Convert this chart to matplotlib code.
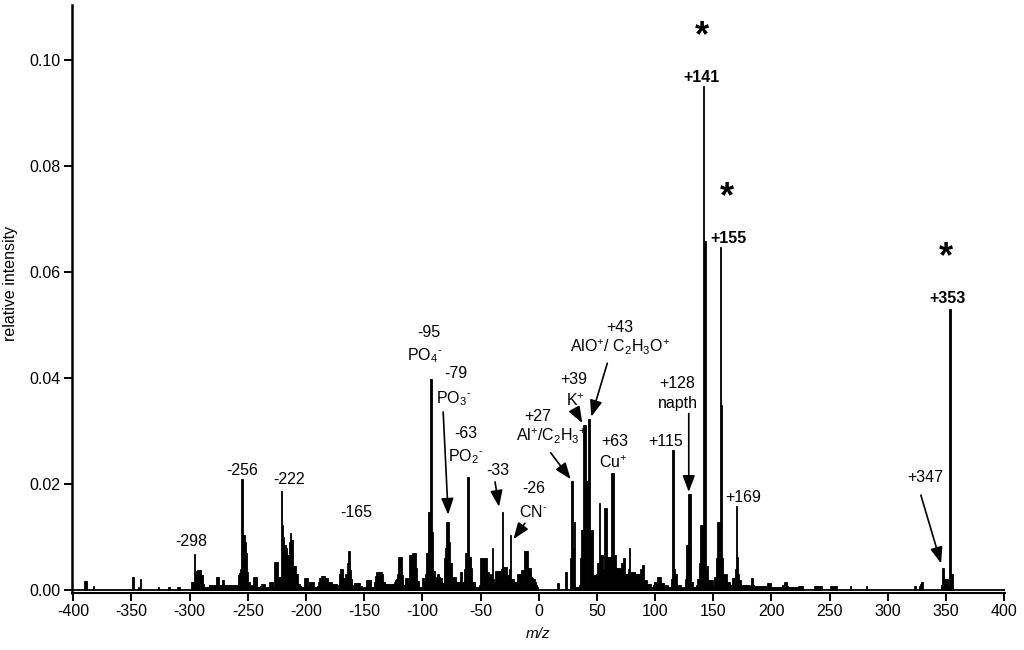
import matplotlib
matplotlib.use("Agg")
import matplotlib.pyplot as plt

plt.rcParams['font.family'] = ['Liberation Sans', 'DejaVu Sans']
plt.rcParams['mathtext.fontset'] = 'custom'
plt.rcParams['mathtext.rm'] = 'Liberation Sans'
plt.rcParams['mathtext.it'] = 'Liberation Sans:italic'
plt.rcParams['mathtext.bf'] = 'Liberation Sans:bold'

# ---------------- data: negative ions ----------------
neg_mz = [-390, -389, -383, -349, -348, -344, -342, -327, -318, -317, -310, -309,
          -298, -297, -296, -295, -294, -293, -292, -291, -290, -289, -288,
          -287, -286, -285, -284, -283, -282, -281, -280, -279, -278,
          -277, -276, -275, -274, -273, -272, -271,
          -270, -269, -268, -267, -266, -265, -264, -263, -262, -261, -260, -259,
          -258, -257, -256, -255, -254, -253, -252, -251, -250, -249, -248, -247, -246,
          -245, -244, -243, -242, -241, -240, -239, -238, -237, -236,
          -235, -234, -233, -232, -231, -230, -229, -228, -227, -226, -225,
          -224, -223, -222, -221, -220, -219, -218, -217, -216, -215, -214, -213, -212,
          -211, -210, -209, -208, -207, -206, -205, -204, -203, -202,
          -201, -200, -199, -198, -197, -196, -195, -194, -193, -192, -191,
          -190, -189, -188, -187, -186, -185, -184, -183, -182,
          -181, -180, -179, -178, -177, -176, -175, -174, -173, -172,
          -171, -170, -169, -168, -167, -166, -165, -164, -163, -162, -161, -160, -159,
          -158, -157, -156, -155, -154, -153, -152, -151, -150, -149,
          -148, -147, -146, -145, -144, -143, -142, -141, -140,
          -139, -138, -137, -136, -135, -134, -133,
          -132, -131, -130, -129, -128, -127, -126, -125, -124, -123, -122, -121,
          -120, -119, -118, -117, -116, -115, -114, -113, -112,
          -111, -110, -109, -108, -107, -106, -105, -104, -103, -102, -101,
          -100, -99, -98, -97, -96, -95, -94, -93, -92, -91, -90,
          -89, -88, -87, -86, -85, -84, -83, -82, -81, -80, -79, -78, -77, -76, -75,
          -74, -73, -72, -71, -70, -69, -68, -67, -66, -65, -64, -63, -62, -61, -60,
          -59, -58, -57, -56, -55, -54, -53, -52, -51,
          -50, -49, -48, -47, -46, -45, -44, -43, -42, -41, -40, -39, -38,
          -37, -36, -35, -34, -33, -32, -31, -30, -29, -28, -27, -26, -25, -24,
          -23, -22, -21, -20, -19, -18, -17, -16, -15, -14, -13, -12, -11, -10,
          -9, -8, -7, -6, -5, -4, -3, -2, -1]
neg_int = [0.0017, 0.0017, 0.0008, 0.0025, 0.0025, 0.0006, 0.0020, 0.0005, 0.0005, 0.0005, 0.0005, 0.0005,
           0.0016, 0.0016, 0.0067, 0.0030, 0.0035, 0.0038, 0.0038, 0.0038, 0.0029, 0.0029, 0.0012,
           0.0006, 0.0006, 0.0006, 0.0006, 0.0009, 0.0009, 0.0009, 0.0009, 0.0010, 0.0010,
           0.0024, 0.0024, 0.0024, 0.0010, 0.0010, 0.0019, 0.0019,
           0.0009, 0.0009, 0.0009, 0.0009, 0.0009, 0.0009, 0.0009, 0.0009, 0.0009, 0.0009, 0.0009, 0.0009,
           0.0028, 0.0032, 0.0040, 0.0209, 0.0103, 0.0103, 0.0090, 0.0069, 0.0034, 0.0015, 0.0008, 0.0010, 0.0010,
           0.0024, 0.0024, 0.0024, 0.0005, 0.0005, 0.0005, 0.0008, 0.0012, 0.0012, 0.0012,
           0.0005, 0.0005, 0.0005, 0.0005, 0.0016, 0.0016, 0.0016, 0.0006, 0.0052, 0.0052, 0.0052,
           0.0025, 0.0025, 0.0025, 0.0187, 0.0122, 0.0100, 0.0085, 0.0080, 0.0066, 0.0066, 0.0090, 0.0108, 0.0095,
           0.0045, 0.0045, 0.0045, 0.0030, 0.0030, 0.0012, 0.0008, 0.0005, 0.0005, 0.0005,
           0.0023, 0.0023, 0.0023, 0.0008, 0.0016, 0.0016, 0.0016, 0.0016, 0.0006, 0.0006, 0.0006,
           0.0008, 0.0015, 0.0022, 0.0026, 0.0026, 0.0026, 0.0026, 0.0022, 0.0022,
           0.0015, 0.0015, 0.0015, 0.0015, 0.0012, 0.0012, 0.0012, 0.0012, 0.0006, 0.0010,
           0.0030, 0.0040, 0.0040, 0.0022, 0.0022, 0.0030, 0.0028, 0.0050, 0.0074, 0.0038, 0.0020, 0.0010, 0.0006,
           0.0013, 0.0013, 0.0013, 0.0013, 0.0013, 0.0006, 0.0008, 0.0005, 0.0005, 0.0005,
           0.0018, 0.0018, 0.0018, 0.0018, 0.0006, 0.0006, 0.0006, 0.0015, 0.0026,
           0.0033, 0.0033, 0.0033, 0.0033, 0.0033, 0.0031, 0.0015,
           0.0011, 0.0011, 0.0012, 0.0012, 0.0012, 0.0011, 0.0011, 0.0011, 0.0015, 0.0018, 0.0020, 0.0030,
           0.0063, 0.0063, 0.0063, 0.0028, 0.0010, 0.0010, 0.0022, 0.0022, 0.0022,
           0.0066, 0.0066, 0.0066, 0.0070, 0.0070, 0.0070, 0.0041, 0.0017, 0.0017, 0.0006, 0.0006,
           0.0023, 0.0023, 0.0017, 0.0030, 0.0070, 0.0148, 0.0148, 0.0398, 0.0398, 0.0110, 0.0035,
           0.0025, 0.0022, 0.0030, 0.0030, 0.0025, 0.0022, 0.0013, 0.0013, 0.0060, 0.0080, 0.0129, 0.0129, 0.0090, 0.0050, 0.0050,
           0.0025, 0.0025, 0.0025, 0.0015, 0.0015, 0.0015, 0.0015, 0.0033, 0.0033, 0.0015, 0.0040, 0.0069, 0.0069, 0.0213, 0.0213,
           0.0063, 0.0041, 0.0015, 0.0015, 0.0015, 0.0005, 0.0005, 0.0005, 0.0010,
           0.0060, 0.0060, 0.0060, 0.0060, 0.0060, 0.0060, 0.0033, 0.0033, 0.0025, 0.0030, 0.0079, 0.0020, 0.0015,
           0.0035, 0.0035, 0.0035, 0.0035, 0.0035, 0.0040, 0.0148, 0.0044, 0.0044, 0.0044, 0.0028, 0.0028, 0.0040, 0.0104,
           0.0020, 0.0020, 0.0015, 0.0015, 0.0015, 0.0031, 0.0031, 0.0031, 0.0038, 0.0038, 0.0038, 0.0074, 0.0074, 0.0074,
           0.0041, 0.0041, 0.0041, 0.0025, 0.0022, 0.0020, 0.0015, 0.0010, 0.0005]

# ---------------- data: positive ions ----------------
pos_mz = [16, 17, 23, 24, 27, 28, 29, 30, 31, 32, 33, 34, 35,
          36, 37, 38, 39, 40, 41, 42, 43, 44, 45, 46,
          47, 48, 49, 50, 51, 52, 53, 54, 55, 56, 57, 58,
          59, 60, 61, 62, 63, 64, 65, 66,
          67, 68, 69, 70, 71, 72, 73, 74, 75, 76, 77, 78,
          79, 80, 81, 82, 83, 84, 85, 86, 87, 88, 89, 90,
          91, 92, 93, 94, 95, 96, 97, 98, 99, 100, 101,
          102, 103, 104, 105, 106, 107, 108, 109, 110, 111, 112, 113, 114,
          115, 116, 117, 118, 119, 120, 121, 122, 123, 124, 125, 126, 127, 128, 129, 130, 131, 132,
          133, 134, 135, 136, 137, 138, 139, 140, 141, 142, 143, 144, 145,
          146, 147, 148, 149, 150, 151, 152, 153, 154, 155, 156, 157, 158,
          159, 160, 161, 162, 163, 164, 165, 166, 167, 168, 169, 170, 171, 172, 173,
          174, 175, 176, 177, 178, 179, 180, 181, 182, 183, 184, 185,
          186, 187, 188, 189, 190, 191, 192, 193, 194, 195, 196, 197, 198, 199,
          200, 201, 202, 203, 204, 205, 206, 207, 208, 209, 210, 211, 212, 213, 214,
          215, 216, 217, 218, 219, 220, 221, 222, 223, 224, 225, 226, 227,
          237, 238, 239, 240, 241, 242, 243, 251, 252, 253, 254, 255, 256, 268, 282,
          323, 324, 327, 328, 329, 330,
          346, 347, 348, 349, 350, 351, 352, 353, 354, 355, 356]
pos_int = [0.0013, 0.0013, 0.0033, 0.0033, 0.0060, 0.0206, 0.0206, 0.0080, 0.0129, 0.0005, 0.0005, 0.0005, 0.0010,
           0.0060, 0.0113, 0.0113, 0.0311, 0.0311, 0.0205, 0.0205, 0.0323, 0.0323, 0.0113, 0.0113,
           0.0028, 0.0028, 0.0028, 0.0030, 0.0050, 0.0164, 0.0066, 0.0066, 0.0066, 0.0040, 0.0155, 0.0155,
           0.0063, 0.0063, 0.0063, 0.0063, 0.0221, 0.0221, 0.0066, 0.0066,
           0.0041, 0.0041, 0.0041, 0.0041, 0.0050, 0.0050, 0.0060, 0.0060, 0.0030, 0.0030, 0.0040, 0.0079,
           0.0033, 0.0033, 0.0033, 0.0033, 0.0031, 0.0031, 0.0031, 0.0031, 0.0031, 0.0040, 0.0048, 0.0048,
           0.0019, 0.0019, 0.0019, 0.0011, 0.0011, 0.0011, 0.0005, 0.0005, 0.0010, 0.0016, 0.0016,
           0.0025, 0.0025, 0.0025, 0.0025, 0.0013, 0.0013, 0.0005, 0.0010, 0.0010, 0.0010, 0.0005, 0.0005, 0.0020,
           0.0264, 0.0264, 0.0040, 0.0031, 0.0008, 0.0010, 0.0010, 0.0010, 0.0005, 0.0005, 0.0005, 0.0020, 0.0085, 0.0085, 0.0181, 0.0181, 0.0016, 0.0016,
           0.0005, 0.0005, 0.0005, 0.0010, 0.0020, 0.0050, 0.0123, 0.0123, 0.0123, 0.0951, 0.0659, 0.0040, 0.0045,
           0.0019, 0.0019, 0.0019, 0.0019, 0.0010, 0.0025, 0.0025, 0.0060, 0.0129, 0.0129, 0.0648, 0.0349, 0.0060,
           0.0031, 0.0031, 0.0031, 0.0016, 0.0016, 0.0016, 0.0010, 0.0010, 0.0022, 0.0022, 0.0040, 0.0158, 0.0063, 0.0030, 0.0019,
           0.0010, 0.0010, 0.0010, 0.0010, 0.0010, 0.0010, 0.0010, 0.0005, 0.0010, 0.0023, 0.0023, 0.0010,
           0.0008, 0.0008, 0.0008, 0.0008, 0.0008, 0.0008, 0.0008, 0.0008, 0.0008, 0.0008, 0.0008, 0.0013, 0.0013, 0.0013,
           0.0005, 0.0005, 0.0005, 0.0005, 0.0005, 0.0005, 0.0005, 0.0005, 0.0005, 0.0005, 0.0010, 0.0016, 0.0016, 0.0016, 0.0008,
           0.0005, 0.0005, 0.0005, 0.0005, 0.0005, 0.0005, 0.0005, 0.0005, 0.0008, 0.0008, 0.0008, 0.0008, 0.0008,
           0.0008, 0.0008, 0.0008, 0.0008, 0.0008, 0.0008, 0.0008, 0.0008, 0.0008, 0.0008, 0.0008, 0.0008, 0.0008, 0.0008, 0.0008,
           0.0008, 0.0008, 0.0008, 0.0012, 0.0016, 0.0016,
           0.0010, 0.0041, 0.0041, 0.0020, 0.0020, 0.0020, 0.0010, 0.0531, 0.0531, 0.0031, 0.0031]

x_ticks = [-400, -350, -300, -250, -200, -150, -100, -50, 0, 50, 100, 150, 200, 250, 300, 350, 400]
y_ticks = [0.00, 0.02, 0.04, 0.06, 0.08, 0.10]

# peak labels: (text, x, y, bold)
labels = [
    ("-298", -298.7, 0.0092, False),
    ("-256", -255.0, 0.0226, False),
    ("-222", -214.6, 0.0209, False),
    ("-165", -157.0, 0.0147, False),
    ("-95", -94.4, 0.0485, False),
    (r"PO$_4{}^{\text{-}}$", -98.0, 0.0442, False),
    ("-79", -71.2, 0.0408, False),
    (r"PO$_3{}^{\text{-}}$", -73.0, 0.0362, False),
    ("-63", -62.7, 0.0296, False),
    (r"PO$_2{}^{\text{-}}$", -63.0, 0.0251, False),
    ("-33", -35.2, 0.0226, False),
    ("-26", -4.3, 0.0191, False),
    (r"CN$^{\text{-}}$", -5.0, 0.0147, False),
    ("+27", -0.9, 0.0328, False),
    (r"Al$^{\text{+}}$/C$_2$H$_3{}^{\text{+}}$", 10.5, 0.0289, False),
    ("+39", 30.0, 0.0398, False),
    (r"K$^{\text{+}}$", 31.8, 0.0357, False),
    ("+43", 69.5, 0.0496, False),
    (r"AlO$^{\text{+}}$/ C$_2$H$_3$O$^{\text{+}}$", 69.5, 0.0457, False),
    ("+63", 65.2, 0.0281, False),
    (r"Cu$^{\text{+}}$", 64.4, 0.0240, False),
    ("+115", 109.0, 0.0281, False),
    ("+128", 119.3, 0.0389, False),
    ("napth", 119.3, 0.0351, False),
    ("+141", 139.9, 0.0968, True),
    ("+155", 163.1, 0.0664, True),
    ("+169", 176.0, 0.0175, False),
    ("+347", 332.2, 0.0213, False),
    ("+353", 351.0, 0.0551, True),
]
stars = [(139.9, 0.1045), (162.2, 0.0740), (350.2, 0.0627)]

# arrows: (tail x, tail y, head x, head y)
arrows = [
    (-82.1, 0.0336, -77.8, 0.0142),
    (-37.5, 0.0204, -34.1, 0.0157),
    (-11.8, 0.0126, -21.7, 0.0096),
    (10.3, 0.0259, 27.5, 0.0209),
    (32.6, 0.0334, 37.5, 0.0315),
    (59.0, 0.0428, 45.2, 0.0327),
    (129.0, 0.0333, 129.0, 0.0185),
    (328.5, 0.0179, 345.9, 0.0050),
]

fig = plt.figure(figsize=(10.24, 6.5), dpi=100)
ax = fig.add_axes([71.7 / 1024, (650 - 593) / 650, (1005.2 - 71.7) / 1024, (593 - 5) / 650])

ax.bar(neg_mz, neg_int, width=1.0, color='black', edgecolor='black', linewidth=0.6)
ax.bar(pos_mz, pos_int, width=1.0, color='black', edgecolor='black', linewidth=0.6)
ax.axhline(0, color='black', lw=1.3, zorder=3)

ax.set_xlim(-401.4, 401)
ax.set_ylim(-0.00057, 0.1104)

for s in ['top', 'right']:
    ax.spines[s].set_visible(False)
ax.spines['left'].set_linewidth(1.8)
ax.spines['bottom'].set_linewidth(1.5)

ax.set_xticks(x_ticks)
ax.set_xticklabels([str(t) for t in x_ticks])
ax.set_yticks(y_ticks)
ax.set_yticklabels(["%.2f" % t for t in y_ticks])
ax.tick_params(direction='out', length=6, width=1.4, labelsize=11.5, pad=2)

ax.set_ylabel("relative intensity", fontsize=11.5)
ax.yaxis.set_label_coords(-0.058, 0.527)
ax.set_xlabel("m/z", fontsize=11, style='italic')
ax.xaxis.set_label_coords(0.5, -0.058)

for txt, x, y, bold in labels:
    ax.text(x, y, txt, ha='center', va='center', fontsize=11.5,
            fontweight='bold' if bold else 'normal')

for x, y in stars:
    ax.text(x, y, "*", ha='center', va='center', fontsize=26, fontweight='bold')

for x0, y0, x1, y1 in arrows:
    ax.annotate("", xy=(x1, y1), xytext=(x0, y0),
                arrowprops=dict(arrowstyle='-|>,head_length=0.45,head_width=0.17',
                                mutation_scale=22, lw=1.2, color='black',
                                shrinkA=0, shrinkB=0))

fig.savefig("out.png", dpi=100)
